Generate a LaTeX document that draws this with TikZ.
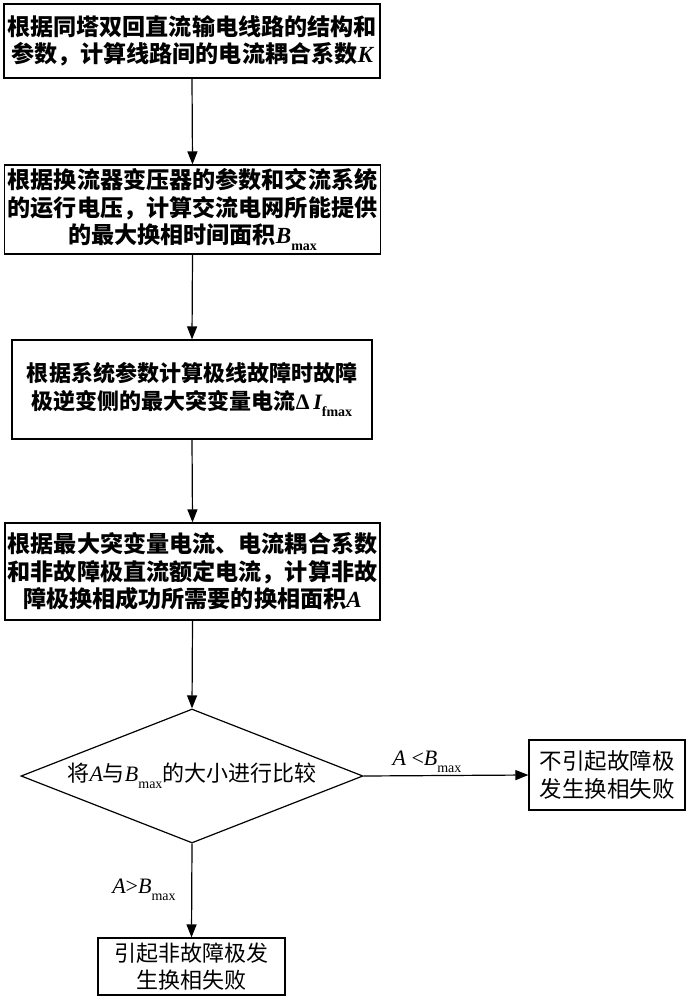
\documentclass[tikz,border=0pt]{standalone}
\usepackage{fontspec}
\setmainfont{Liberation Serif}
\newfontfamily\cjk{Noto Sans CJK SC}
\usetikzlibrary{shapes.geometric,arrows.meta}
\newcommand\lt[1]{{\rmfamily\itshape #1}}
\newcommand\sbx[2]{\raisebox{-0.3em}{\rmfamily\upshape\fontsize{#1}{#1}\selectfont #2}}
\tikzset{
  boxb/.style={draw, line width=1.2pt, inner sep=0pt, align=center,
    font=\cjk\bfseries\fontsize{23.1}{27.5}\selectfont},
  boxr/.style={draw, line width=1.2pt, inner sep=0pt, align=center,
    font=\cjk\fontsize{22.5}{27.5}\selectfont},
  dec/.style={draw, diamond, line width=1.2pt, inner sep=0pt, shape aspect=2.55,
    minimum width=342pt, minimum height=134pt, font=\cjk\fontsize{22}{26}\selectfont},
  lab/.style={inner sep=0pt, font=\rmfamily\fontsize{22}{26}\selectfont},
  arr/.style={line width=1.2pt, -{Triangle[length=13pt,width=10pt]}}
}
\begin{document}
\begin{tikzpicture}[x=1pt,y=-1pt]
\useasboundingbox (0,0) rectangle (691,1000);
\fill[white] (0,0) rectangle (691,1000);
\node[boxb, minimum width=376pt, minimum height=74pt] (b1) at (192,41)
  {根据同塔双回直流输电线路的结构和\\参数，计算线路间的电流耦合系数{\rmfamily\bfseries\itshape K}};
\node[boxb, minimum width=376pt, minimum height=89pt] (b2) at (192.5,209.5)
  {根据换流器变压器的参数和交流系统\\的运行电压，计算交流电网所能提供\\的最大换相时间面积{\rmfamily\bfseries\itshape B}\sbx{14}{\bfseries max}};
\node[boxb, font=\cjk\bfseries\fontsize{22}{28}\selectfont, minimum width=360pt, minimum height=99pt] (b3) at (192,389.5)
  {根据系统参数计算极线故障时故障\\极逆变侧的最大突变量电流{\rmfamily Δ\,\bfseries\itshape I}\sbx{14}{\bfseries fmax}};
\node[boxb, minimum width=375pt, minimum height=97pt] (b4) at (192.5,571.5)
  {根据最大突变量电流、电流耦合系数\\和非故障极直流额定电流，计算非故\\障极换相成功所需要的换相面积{\rmfamily\bfseries\itshape A}};
\node[dec] (d) at (192,776)
  {将\lt{A}与\lt{B}\sbx{14}{max}的大小进行比较};
\node[boxr, minimum width=156pt, minimum height=70pt] (r) at (607,775)
  {不引起故障极\\发生换相失败};
\node[boxr, font=\cjk\fontsize{22}{27}\selectfont, minimum width=187pt, minimum height=57pt] (f) at (191.5,966.5)
  {引起非故障极发\\生换相失败};
\node[lab] (l1) at (427,762) {\lt{A} <\lt{B}\sbx{14}{max}};
\node[lab] (l2) at (144,890) {\lt{A}>\lt{B}\sbx{14}{max}};
\draw[arr] (b1.south) -- (b2.north);
\draw[arr] (b2.south) -- (b3.north);
\draw[arr] (b3.south) -- (b4.north);
\draw[arr] (b4.south) -- (d.north);
\draw[arr] (d.east) -- (r.west);
\draw[arr] (d.south) -- (f.north);
\end{tikzpicture}
\end{document}
